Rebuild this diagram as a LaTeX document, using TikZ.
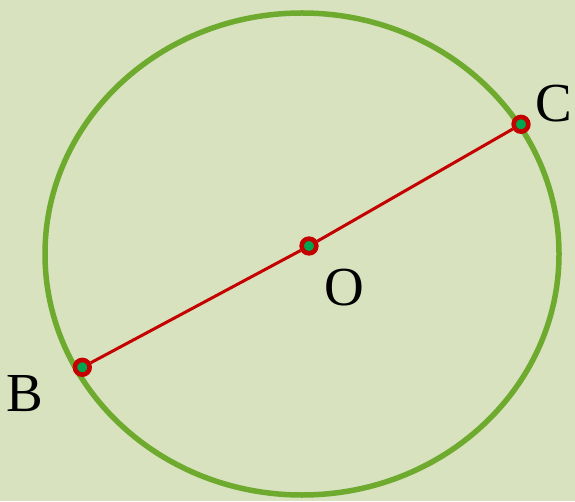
\documentclass[tikz,border=0pt]{standalone}
\usepackage{fontspec}
\setmainfont{Liberation Serif}
\usetikzlibrary{positioning}
\definecolor{bgpale}{RGB}{216,226,191}
\definecolor{rimgreen}{RGB}{110,170,46}
\definecolor{chordred}{RGB}{196,0,0}
\definecolor{dotgreen}{RGB}{0,165,80}
\begin{document}
\begin{tikzpicture}[
  x=1pt,y=1pt,
  rim/.style={draw=rimgreen,line width=5.5pt},
  chord/.style={draw=chordred,line width=3pt},
  pt/.style={circle,draw=chordred,fill=dotgreen,line width=4.6pt,minimum size=14.7pt,inner sep=0pt},
  lbl/.style={font=\fontsize{55}{55}\selectfont,inner sep=0pt},
]
% ---- background ----
\fill[bgpale] (0,0) rectangle (575,501);
\useasboundingbox (0,0) rectangle (575,501);
% ---- circle ----
\coordinate (ctr) at (302,247);
\draw[rim] (ctr) ellipse [x radius=257, y radius=241];
% ---- diameter ----
\node[pt] (B) at (82.3,133.7) {};
\node[pt] (O) at (309,255) {};
\node[pt] (C) at (521,376.7) {};
\draw[chord] (B) -- (O);
\draw[chord] (O) -- (C);
% ---- labels ----
\node[lbl] (labC) at (554,397) {C};
\node[lbl] (labO) at (344,213) {O};
\node[lbl] (labB) at (24.5,107) {B};
\end{tikzpicture}
\end{document}
